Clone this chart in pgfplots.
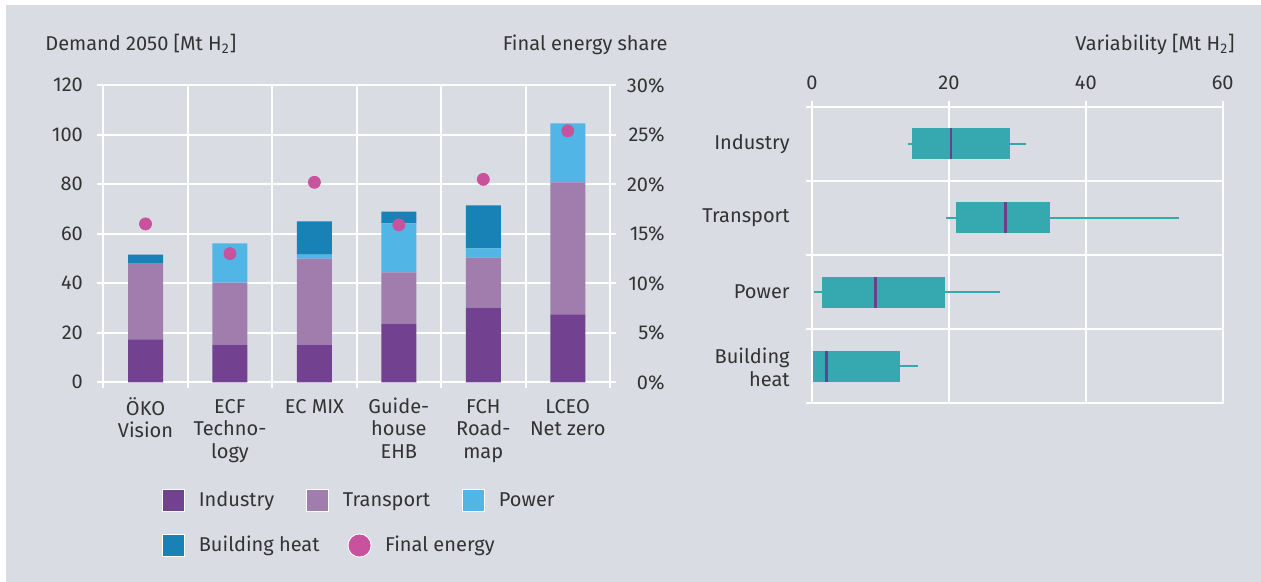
\documentclass[border=0pt]{standalone}
\usepackage{fontspec}
\setmainfont{Fira Sans}
\usepackage{pgfplots}
\pgfplotsset{compat=1.18}
\usepgfplotslibrary{statistics}

\definecolor{bg}{HTML}{D9DCE3}
\definecolor{txt}{HTML}{333333}
\definecolor{ind}{HTML}{72418F}
\definecolor{trans}{HTML}{A17DAD}
\definecolor{pow}{HTML}{51B6E6}
\definecolor{bheat}{HTML}{1881B5}
\definecolor{fe}{HTML}{C9529E}
\definecolor{boxc}{HTML}{36A9B0}
\definecolor{medp}{HTML}{6C3F8E}

% 1 px of the reference = 0.5pt
\pgfplotsset{
  panel/.style={
    scale only axis,
    tick align=outside,
    major tick length=3pt,
    tick style={white, line width=1pt},
    grid style={white, line width=1pt},
    axis line style={white, line width=1pt},
    every tick label/.append style={text=txt, inner sep=0pt},
  },
}

\begin{document}
\fontsize{10}{11.3}\selectfont
\color{txt}
\begin{tikzpicture}
\fill[white] (0,0) rectangle (630.5pt,-291pt);
\fill[bg] (3pt,-2.5pt) rectangle (630.5pt,-291pt);

\node[anchor=base west, inner sep=0pt] at (22.5pt,-25.5pt) {Demand 2050 [Mt H\textsubscript{2}]};
\node[anchor=base east, inner sep=0pt] at (334pt,-25.5pt) {Final energy share};
\node[anchor=base east, inner sep=0pt] at (617.5pt,-25.5pt) {Variability [Mt H\textsubscript{2}]};

% ---- stacked bars
\begin{axis}[panel,
  at={(51.65pt,-191.15pt)}, anchor=south west,
  width=253.35pt, height=148.5pt,
  xmin=-0.5, xmax=5.5, ymin=0, ymax=120,
  ybar stacked, bar width=17.5pt,
  xtick={-0.5,0.5,...,5.5},
  xticklabels={
    {\begin{tabular}[t]{@{}c@{}}ÖKO\\Vision\end{tabular}},
    {\begin{tabular}[t]{@{}c@{}}ECF\\Techno-\\logy\end{tabular}},
    {\begin{tabular}[t]{@{}c@{}}EC MIX\end{tabular}},
    {\begin{tabular}[t]{@{}c@{}}Guide-\\house\\EHB\end{tabular}},
    {\begin{tabular}[t]{@{}c@{}}FCH\\Road-\\map\end{tabular}},
    {\begin{tabular}[t]{@{}c@{}}LCEO\\Net zero\end{tabular}},
    {}},
  xticklabel style={anchor=north, xshift=21.1pt, yshift=-4.35pt},
  xtick pos=left,
  ytick={0,20,...,120},
  yticklabels={0,20,40,60,80,100,120},
  ytick pos=both,
  yticklabel style={anchor=east, xshift=-7pt},
  xmajorgrids, ymajorgrids,
  legend style={at={(0.1151,-0.3987)}, anchor=west, draw=none, fill=none,
    inner sep=0pt, legend columns=3,
    /tikz/every odd column/.append style={column sep=4.8pt},
    /tikz/every even column/.append style={column sep=14pt}},
]
\addplot[fill=ind, draw=none,
  legend image code/.code={\draw[fill=ind, draw=white, line width=0.6pt] (0pt,-5.5pt) rectangle (11pt,5.5pt);}]
  coordinates {(0,17.3) (1,15.2) (2,15.2) (3,23.7) (4,30.2) (5,27.4)};
\addplot[fill=trans, draw=none,
  legend image code/.code={\draw[fill=trans, draw=white, line width=0.6pt] (0pt,-5.5pt) rectangle (11pt,5.5pt);}]
  coordinates {(0,30.7) (1,25.1) (2,34.8) (3,20.7) (4,20.2) (5,53.4)};
\addplot[fill=pow, draw=none,
  legend image code/.code={\draw[fill=pow, draw=white, line width=0.6pt] (0pt,-5.5pt) rectangle (11pt,5.5pt);}]
  coordinates {(0,0) (1,15.8) (2,1.6) (3,19.8) (4,3.7) (5,23.8)};
\addplot[fill=bheat, draw=none]
  coordinates {(0,3.6) (1,0) (2,13.4) (3,4.8) (4,17.4) (5,0)};
\legend{Industry, Transport, Power}
\end{axis}

% ---- final energy share (right axis)
\begin{axis}[
  scale only axis,
  at={(51.65pt,-191.15pt)}, anchor=south west,
  width=253.35pt, height=148.5pt,
  xmin=-0.5, xmax=5.5, ymin=0, ymax=30,
  axis x line=none, axis y line*=right,
  axis line style={draw=none},
  ytick={0,5,...,30},
  yticklabels={0\%,5\%,10\%,15\%,20\%,25\%,30\%},
  ytick style={draw=none},
  yticklabel style={anchor=east, inner sep=0pt, xshift=27.5pt, text=txt},
  legend style={at={(0.1151,-0.5495)}, anchor=west, draw=none, fill=none,
    inner sep=0pt, legend columns=2,
    /tikz/every odd column/.append style={column sep=4.8pt},
    /tikz/every even column/.append style={column sep=12pt}},
]
\addlegendimage{legend image code/.code={\draw[fill=bheat, draw=white, line width=0.6pt] (0pt,-5.5pt) rectangle (11pt,5.5pt);}}
\addplot[only marks, mark=*, mark size=3pt, color=fe,
  legend image code/.code={\fill[white] (5.5pt,0pt) circle (5.8pt); \fill[fe] (5.5pt,0pt) circle (5.3pt);}]
  coordinates {(0,16.0) (1,13.0) (2,20.2) (3,15.9) (4,20.5) (5,25.4)};
\legend{Building heat, Final energy}
\end{axis}

% ---- variability box plots
\begin{axis}[panel,
  at={(406pt,-201.65pt)}, anchor=south west,
  width=205.35pt, height=148.3pt,
  xmin=0, xmax=60, ymin=0.5, ymax=4.5,
  xtick={0,20,40,60},
  xticklabels={0,20,40,60},
  xtick pos=right, xticklabel pos=right,
  xticklabel style={anchor=south, yshift=5.35pt},
  ytick={0.5,1.5,...,4.5},
  yticklabels={{},
    {\raisebox{-4.75pt}[0pt][0pt]{\begin{tabular}{@{}r@{}}Building\\heat\end{tabular}}},
    Power, Transport, Industry},
  ytick pos=left,
  yticklabel style={anchor=east, yshift=-18.54pt, xshift=-8pt},
  xmajorgrids, ymajorgrids,
  boxplot/draw direction=x,
  boxplot/box extend=0.42,
  boxplot/whisker extend=0,
  boxplot/every box/.style={fill=boxc, draw=none},
  boxplot/every whisker/.style={draw=boxc, line width=1pt},
  boxplot/every median/.style={draw=medp, line width=1.4pt},
]
\addplot[boxc, boxplot prepared={draw position=4,
  lower whisker=14.0, lower quartile=14.6, median=20.3,
  upper quartile=28.9, upper whisker=31.3}] coordinates {};
\addplot[boxc, boxplot prepared={draw position=3,
  lower whisker=19.6, lower quartile=21.0, median=28.3,
  upper quartile=34.8, upper whisker=53.6}] coordinates {};
\addplot[boxc, boxplot prepared={draw position=2,
  lower whisker=0.3, lower quartile=1.4, median=9.3,
  upper quartile=19.4, upper whisker=27.4}] coordinates {};
\addplot[boxc, boxplot prepared={draw position=1,
  lower whisker=0.1, lower quartile=0.15, median=2.1,
  upper quartile=12.9, upper whisker=15.5}] coordinates {};
\end{axis}

\pgfresetboundingbox
\path[use as bounding box] (0,0) rectangle (630.5pt,-291pt);
\end{tikzpicture}
\end{document}
